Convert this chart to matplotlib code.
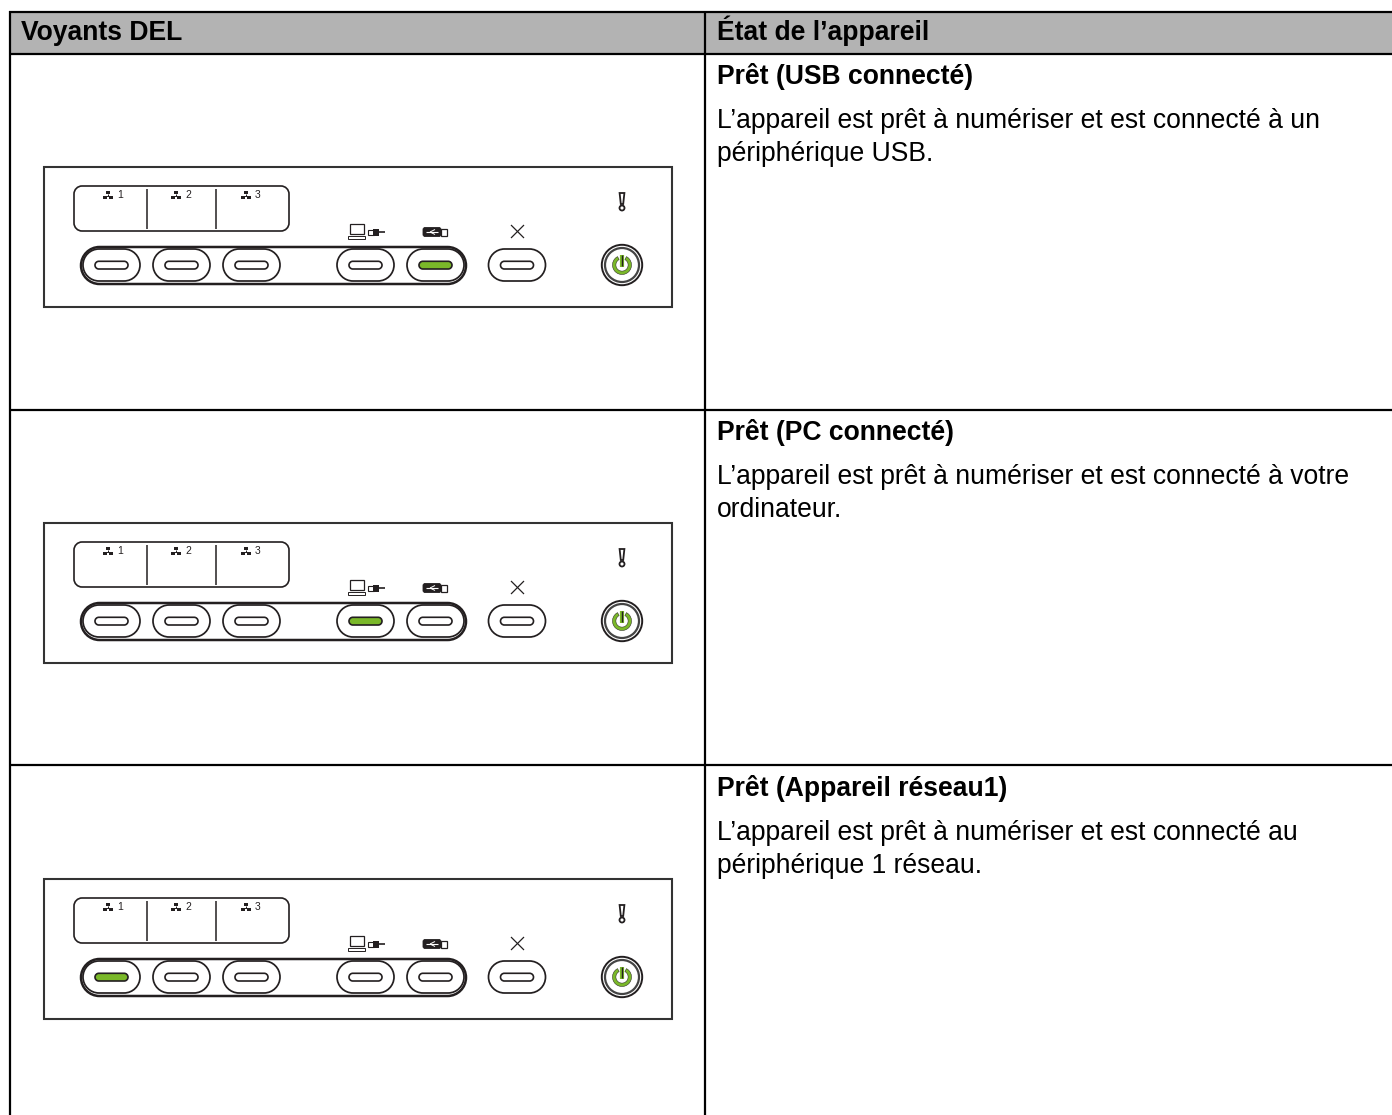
import matplotlib
matplotlib.use("Agg")
import matplotlib.pyplot as plt
from matplotlib.path import Path
from matplotlib.patches import PathPatch, Rectangle, Circle, Wedge, Polygon

plt.rcParams['font.family'] = ['Liberation Sans', 'DejaVu Sans']

headers = ["Voyants DEL", "État de l’appareil"]
titles = ["Prêt (USB connecté)", "Prêt (PC connecté)", "Prêt (Appareil réseau1)"]
first_lines = [
    "L’appareil est prêt à numériser et est connecté à un",
    "L’appareil est prêt à numériser et est connecté à votre",
    "L’appareil est prêt à numériser et est connecté au",
]
second_lines = ["périphérique USB.", "ordinateur.", "périphérique 1 réseau."]
network_labels = ["1", "2", "3"]
button_names = ["net1", "net2", "net3", "pc", "usb", "stop"]
active_button = ["usb", "pc", "net1"]

INK = "#231f20"
GREEN = "#7ab829"
GRID = "#000000"
HEADER = "#b3b3b3"
SIZE = 19.1

fig = plt.figure(figsize=(13.92, 11.15), dpi=100)
ax = fig.add_axes([0, 0, 1, 1])
ax.set_xlim(0, 1392)
ax.set_ylim(1115, 0)
ax.axis("off")


def rounded(x0, y0, x1, y1, r, fc="white", ec=INK, lw=1.1, z=3):
    k = 0.5523 * r
    verts = [
        (x0 + r, y0), (x1 - r, y0),
        (x1 - r + k, y0), (x1, y0 + r - k), (x1, y0 + r),
        (x1, y1 - r),
        (x1, y1 - r + k), (x1 - r + k, y1), (x1 - r, y1),
        (x0 + r, y1),
        (x0 + r - k, y1), (x0, y1 - r + k), (x0, y1 - r),
        (x0, y0 + r),
        (x0, y0 + r - k), (x0 + r - k, y0), (x0 + r, y0),
        (x0 + r, y0),
    ]
    codes = [Path.MOVETO, Path.LINETO,
             Path.CURVE4, Path.CURVE4, Path.CURVE4,
             Path.LINETO,
             Path.CURVE4, Path.CURVE4, Path.CURVE4,
             Path.LINETO,
             Path.CURVE4, Path.CURVE4, Path.CURVE4,
             Path.LINETO,
             Path.CURVE4, Path.CURVE4, Path.CURVE4,
             Path.CLOSEPOLY]
    ax.add_patch(PathPatch(Path(verts, codes), fc=fc, ec=ec, lw=lw, zorder=z))


def line(xs, ys, lw=1.2, c=INK, z=4):
    ax.plot(xs, ys, color=c, lw=lw, zorder=z, solid_capstyle="butt")


def network_icon(x, y):
    ax.add_patch(Rectangle((x - 2, y - 4), 4, 3, fc=INK, ec="none", zorder=4))
    line([x, x], [y - 1, y + 1], 0.7)
    line([x - 3, x + 3], [y + 0.5, y + 0.5], 0.7)
    ax.add_patch(Rectangle((x - 5, y + 1), 4, 3, fc=INK, ec="none", zorder=4))
    ax.add_patch(Rectangle((x + 1, y + 1), 4, 3, fc=INK, ec="none", zorder=4))


def panel(dy, active):
    ax.add_patch(Rectangle((43.5, 166.5 + dy), 628.5, 140.5, fc="white", ec="#333333", lw=1.5, zorder=2))
    # network label strip
    rounded(74, 186 + dy, 289, 231 + dy, 8, lw=1.2)
    for x in (147, 216):
        line([x, x], [189 + dy, 229 + dy], 1.1)
    for x, lab in zip((108, 176, 246), network_labels):
        network_icon(x, 195 + dy)
        ax.text(x + 12, 195 + dy, lab, fontsize=7.5, color=INK, ha="center", va="center", zorder=4)
    # long group bar
    rounded(81, 247 + dy, 466, 284 + dy, 18.5, lw=1.8)
    # buttons
    centers = dict(zip(button_names, (111.5, 181.5, 251.5, 365.5, 435.5, 517)))
    for name, cx in centers.items():
        rounded(cx - 28.5, 249 + dy, cx + 28.5, 281 + dy, 16, lw=1.25, z=5)
        on = name == active
        rounded(cx - 16.5, 261.3 + dy, cx + 16.5, 269 + dy, 3.8,
                fc=GREEN if on else "white", lw=1.2, z=6)
    # PC icon
    ax.add_patch(Rectangle((349.5, 224 + dy), 14, 10, fc="white", ec=INK, lw=0.9, zorder=4))
    ax.add_patch(Rectangle((348, 236 + dy), 17, 3, fc="white", ec=INK, lw=0.7, zorder=4))
    ax.add_patch(Rectangle((367.5, 229.5 + dy), 6, 5.5, fc="white", ec=INK, lw=0.8, zorder=4))
    ax.add_patch(Rectangle((373, 228.5 + dy), 6, 7, fc=INK, ec="none", zorder=4))
    line([379, 385], [232 + dy, 232 + dy], 1.2)
    # USB icon
    rounded(423, 227.5 + dy, 441, 236.5 + dy, 2, fc=INK, lw=0.6)
    line([426, 438], [232 + dy, 232 + dy], 0.8, c="white", z=5)
    line([430, 435], [232 + dy, 229.5 + dy], 0.7, c="white", z=5)
    line([430, 435], [232 + dy, 234.5 + dy], 0.7, c="white", z=5)
    ax.add_patch(Rectangle((441, 228.5 + dy), 6, 7, fc="white", ec=INK, lw=0.9, zorder=4))
    # stop cross
    line([511, 524], [225 + dy, 238 + dy], 0.9)
    line([511, 524], [238 + dy, 225 + dy], 0.9)
    # exclamation
    ax.add_patch(Polygon([(619.6, 193 + dy), (624.4, 193 + dy), (623.2, 204 + dy), (620.8, 204 + dy)],
                         closed=True, fc="white", ec=INK, lw=1.3, zorder=4))
    ax.add_patch(Circle((622, 208 + dy), 2.5, fc="white", ec=INK, lw=1.3, zorder=4))
    # power button
    ax.add_patch(Circle((622, 265 + dy), 20.2, fc="white", ec=INK, lw=1.4, zorder=4))
    ax.add_patch(Circle((622, 265 + dy), 17, fc="white", ec="#444444", lw=1.6, zorder=4))
    ax.add_patch(Wedge((622, 265 + dy), 9.5, -62, 242, width=3.4, fc=GREEN, ec=INK, lw=0.35, zorder=5))
    line([622, 622], [254.5 + dy, 266.5 + dy], 3.0, c=GREEN, z=5)
    line([622, 622], [255 + dy, 265.5 + dy], 1.0, c=INK, z=6)


# table frame
ax.add_patch(Rectangle((10, 12), 1382, 42, fc=HEADER, ec="none", zorder=1))
for y in (12, 54, 410, 765):
    line([9, 1392], [y, y], 1.6, c=GRID, z=7)
for x in (10, 705):
    line([x, x], [11, 1115], 1.6, c=GRID, z=7)

ax.text(21, 39.5, headers[0], fontsize=SIZE, fontweight="bold", va="baseline", color="black", zorder=8)
ax.text(717, 39.5, headers[1], fontsize=SIZE, fontweight="bold", va="baseline", color="black", zorder=8)

row_offsets = [0, 356, 712]
for t, a1, a2, a, dy in zip(titles, first_lines, second_lines, active_button, row_offsets):
    panel(dy, a)
    ax.text(717, 84 + dy, t, fontsize=SIZE, fontweight="bold", va="baseline", color="black", zorder=8)
    ax.text(717, 128 + dy, a1, fontsize=SIZE, va="baseline", color="black", zorder=8)
    ax.text(717, 161 + dy, a2, fontsize=SIZE, va="baseline", color="black", zorder=8)

fig.savefig("out.png", dpi=100, facecolor="white")
